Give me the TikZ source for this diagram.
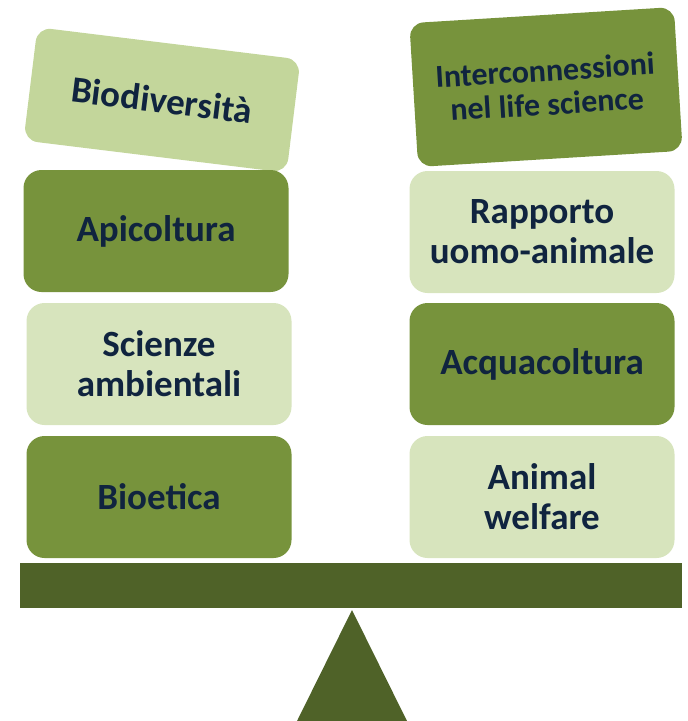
\documentclass[tikz,border=0pt]{standalone}
\usepackage{fontspec}
\setmainfont{Carlito}

\definecolor{leafdark}{HTML}{77933C}
\definecolor{leaflight}{HTML}{C3D69B}
\definecolor{leafpale}{HTML}{D7E4BD}
\definecolor{beamgreen}{HTML}{4F6228}
\definecolor{inkblue}{HTML}{10243F}

\tikzset{
	card/.style={rectangle, rounded corners=18pt, inner sep=0pt, text=inkblue, align=center,
		font=\bfseries\fontsize{37}{40}\selectfont, minimum width=265pt, minimum height=122pt},
	darkcard/.style={card, fill=leafdark},
	lightcard/.style={card, fill=leaflight},
	palecard/.style={card, fill=leafpale}
}

\begin{document}
\begin{tikzpicture}[x=1pt, y=-1pt]

	\useasboundingbox (0, 0) rectangle (688, 721);

	\node[lightcard, rotate=-7, minimum height=114pt, rounded corners=14pt, font=\bfseries\fontsize{37}{40}\selectfont] (biodiv) at (162, 100) {Biodiversità};
	\node[darkcard, rotate=3.5, minimum height=144pt, rounded corners=14pt, font=\bfseries\fontsize{32}{34}\selectfont] (inter) at (546, 87) {Interconnessioni\\nel life science};

	\node[darkcard] (apicoltura) at (156, 231) {Apicoltura};
	\node[palecard] (scienze) at (159, 364) {Scienze\\ambientali};
	\node[darkcard] (bioetica) at (159, 497) {Bioetica};

	\node[palecard] (rapporto) at (542, 232) {Rapporto\\uomo-animale};
	\node[darkcard] (acqua) at (542, 364) {Acquacoltura};
	\node[palecard] (welfare) at (542, 497) {Animal\\welfare};

	\fill[beamgreen] (20, 563) rectangle (682, 608);
	\fill[beamgreen] (352, 610) -- (407, 721) -- (297, 721) -- cycle;

\end{tikzpicture}
\end{document}
